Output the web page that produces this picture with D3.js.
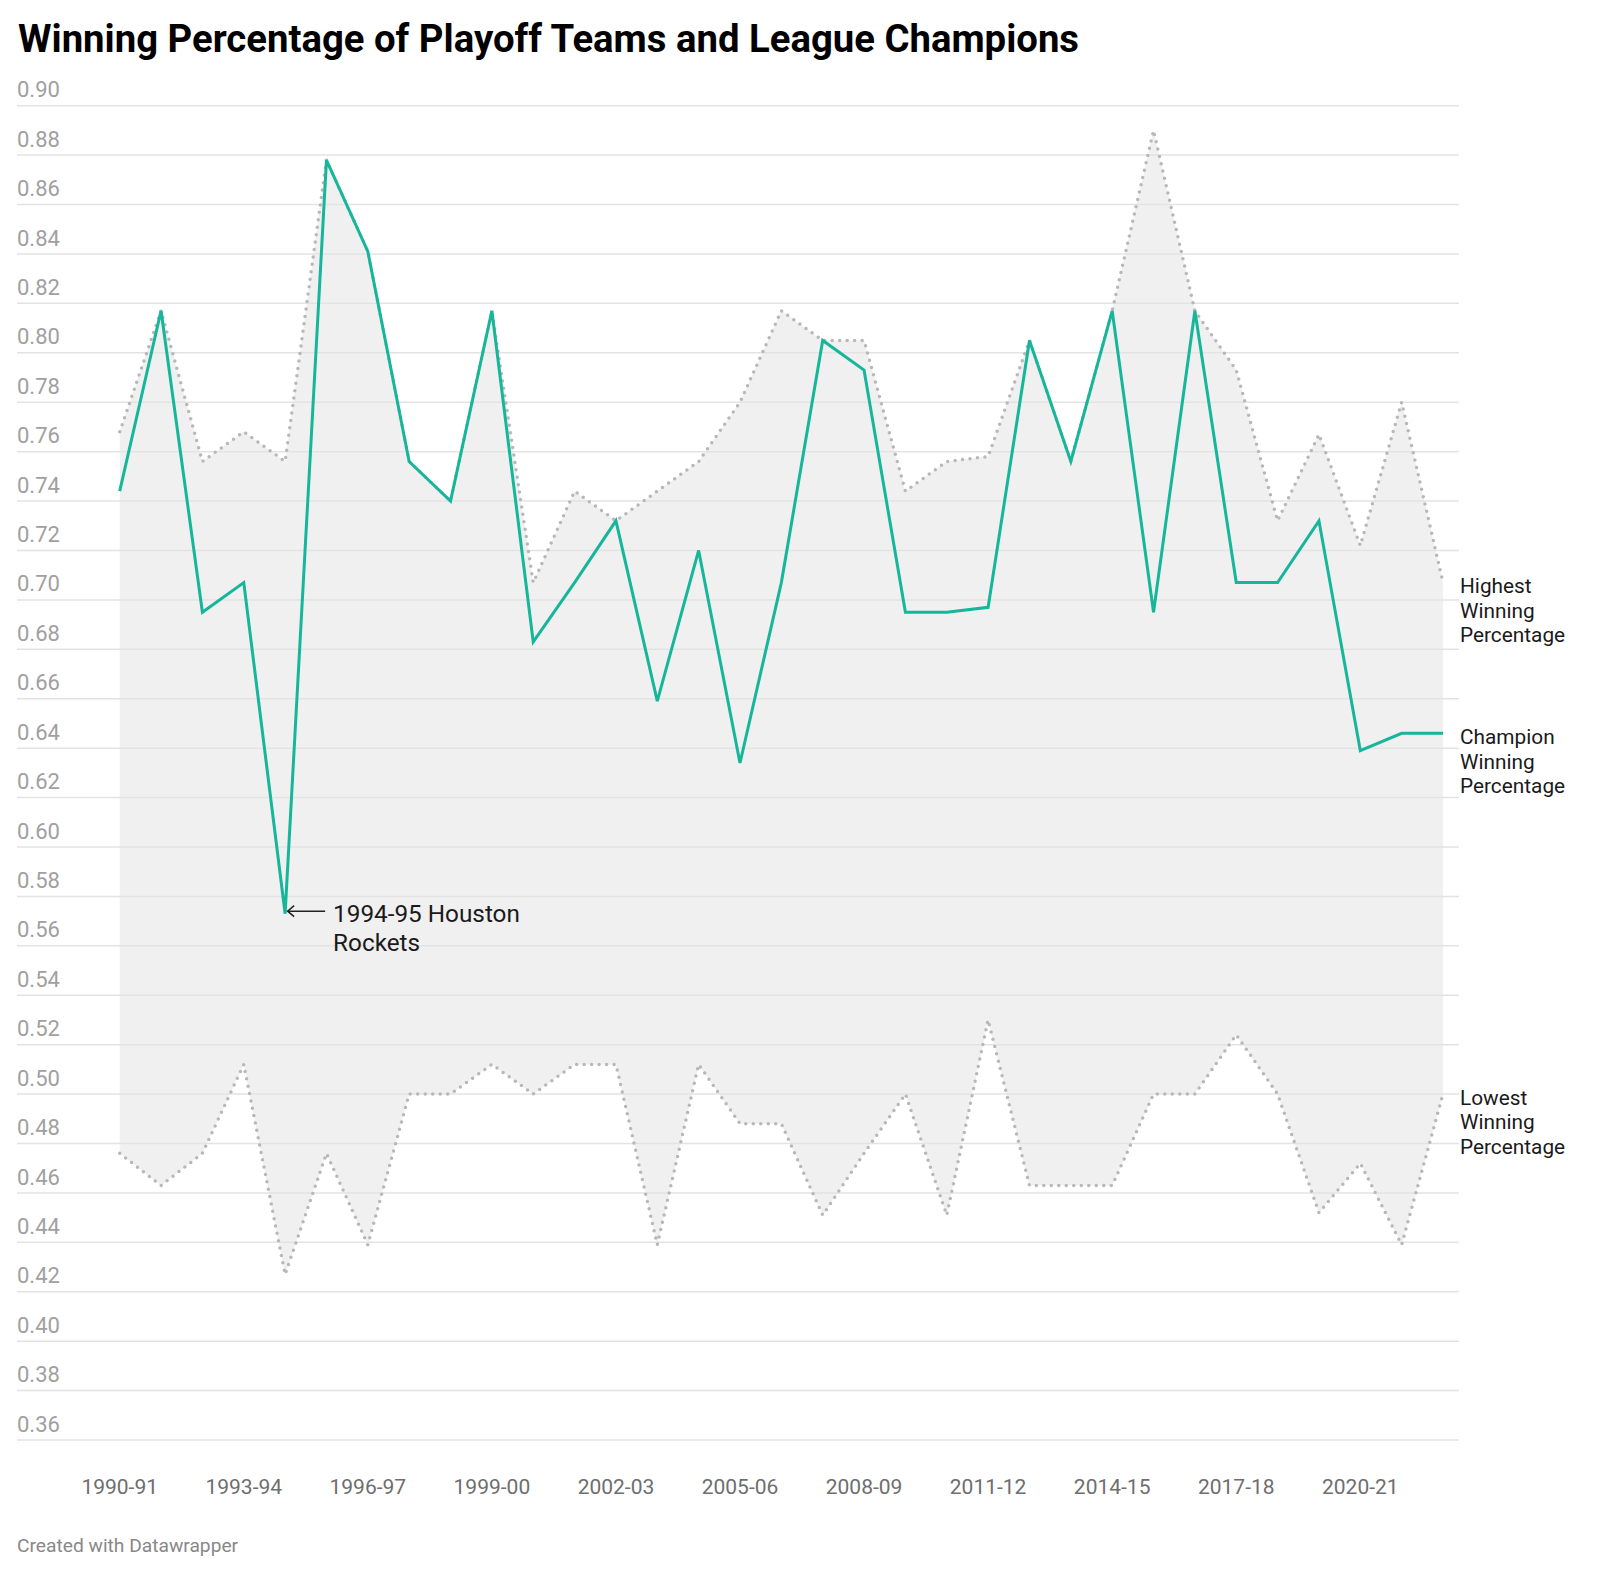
<!DOCTYPE html>
<html>
<head>
<meta charset="utf-8">
<script src="https://cdn.jsdelivr.net/npm/d3@7"></script>
<style>
  html, body { margin: 0; padding: 0; background: #fff; }
  svg { display: block; font-family: Roboto, "Noto Sans", sans-serif; }
</style>
</head>
<body>
<svg id="chart" width="1600" height="1574"></svg>
<script>
const seasons = ["1990-91","1991-92","1992-93","1993-94","1994-95","1995-96","1996-97","1997-98","1998-99","1999-00","2000-01","2001-02","2002-03","2003-04","2004-05","2005-06","2006-07","2007-08","2008-09","2009-10","2010-11","2011-12","2012-13","2013-14","2014-15","2015-16","2016-17","2017-18","2018-19","2019-20","2020-21","2021-22","2022-23"];
const champion = [0.744,0.817,0.695,0.707,0.573,0.878,0.841,0.756,0.740,0.817,0.683,0.707,0.732,0.659,0.720,0.634,0.707,0.805,0.793,0.695,0.695,0.697,0.805,0.756,0.817,0.695,0.817,0.707,0.707,0.732,0.639,0.646,0.646];
const highest  = [0.768,0.817,0.756,0.768,0.756,0.878,0.841,0.756,0.740,0.817,0.707,0.744,0.732,0.744,0.756,0.780,0.817,0.805,0.805,0.744,0.756,0.758,0.805,0.756,0.817,0.890,0.817,0.793,0.732,0.767,0.722,0.780,0.707];
const lowest   = [0.476,0.463,0.476,0.512,0.427,0.476,0.439,0.500,0.500,0.512,0.500,0.512,0.512,0.439,0.512,0.488,0.488,0.451,0.476,0.500,0.451,0.530,0.463,0.463,0.463,0.500,0.500,0.524,0.500,0.452,0.472,0.439,0.500];
const xTickLabels = ["1990-91","1993-94","1996-97","1999-00","2002-03","2005-06","2008-09","2011-12","2014-15","2017-18","2020-21"];
const yTickValues = [0.36,0.38,0.40,0.42,0.44,0.46,0.48,0.50,0.52,0.54,0.56,0.58,0.60,0.62,0.64,0.66,0.68,0.70,0.72,0.74,0.76,0.78,0.80,0.82,0.84,0.86,0.88,0.90];
const seriesLabels = [
  {name: "highest", lines: ["Highest","Winning","Percentage"]},
  {name: "champion", lines: ["Champion","Winning","Percentage"]},
  {name: "lowest", lines: ["Lowest","Winning","Percentage"]}
];
const annotation = {season: "1994-95", lines: ["1994-95 Houston", "Rockets"]};

const svg = d3.select("#chart");
const x = d3.scalePoint().domain(seasons).range([119.7, 1443]);
const y = d3.scaleLinear().domain([0.36, 0.90]).range([1440, 105.7]);

const rows = seasons.map((s, i) => ({s, c: champion[i], h: highest[i], l: lowest[i]}));
const series = {champion: champion, highest: highest, lowest: lowest};

// Title
svg.append("text").attr("x", 18).attr("y", 52.3)
  .attr("font-size", 38.3).attr("font-weight", 700).attr("fill", "#000")
  .text("Winning Percentage of Playoff Teams and League Champions");

// Area between lowest and highest
svg.append("path").datum(rows)
  .attr("fill", "#f0f0f0")
  .attr("d", d3.area().x(d => x(d.s)).y0(d => y(d.l)).y1(d => y(d.h)));

// Gridlines + y labels
const gy = svg.append("g");
gy.selectAll("line").data(yTickValues).join("line")
  .attr("x1", 17).attr("x2", 1459)
  .attr("y1", d => y(d)).attr("y2", d => y(d))
  .attr("stroke", "#e3e3e3").attr("stroke-width", 1.5);
gy.selectAll("text").data(yTickValues).join("text")
  .attr("x", 17).attr("y", d => y(d) - 8.4)
  .attr("font-size", 22).attr("fill", "#a0a0a0")
  .text(d => d3.format(".2f")(d));

// X labels
svg.append("g").selectAll("text").data(xTickLabels).join("text")
  .attr("x", d => x(d)).attr("y", 1494)
  .attr("text-anchor", "middle").attr("font-size", 21).attr("fill", "#6e6e6e")
  .text(d => d);

// Dotted lines
const line = key => d3.line().x(d => x(d.s)).y(d => y(d[key]));
["h", "l"].forEach(k => {
  svg.append("path").datum(rows).attr("d", line(k))
    .attr("fill", "none").attr("stroke", "#b8b8b8").attr("stroke-width", 3.5)
    .attr("stroke-linecap", "round").attr("stroke-dasharray", "0 7.5");
});

// Champion line
svg.append("path").datum(rows).attr("d", line("c"))
  .attr("fill", "none").attr("stroke", "#16b69b").attr("stroke-width", 3)
  .attr("stroke-linejoin", "miter");

// Right labels
const lastIdx = seasons.length - 1;
seriesLabels.forEach(lab => {
  const v = series[lab.name][lastIdx];
  const t = svg.append("text").attr("x", 1460).attr("y", y(v) + 10.8)
    .attr("font-size", 20.8).attr("fill", "#1a1a1a");
  lab.lines.forEach((ln, i) => {
    t.append("tspan").attr("x", 1460).attr("dy", i === 0 ? 0 : 24.5).text(ln);
  });
});

// Annotation
const ax = x(annotation.season), ayv = y(champion[seasons.indexOf(annotation.season)]);
const ay = ayv - 2.5;
svg.append("line").attr("x1", ax + 40).attr("x2", ax + 2.5)
  .attr("y1", ay).attr("y2", ay).attr("stroke", "#222").attr("stroke-width", 1.5);
svg.append("path")
  .attr("d", `M${ax + 9},${ay - 5.5} L${ax + 2.5},${ay} L${ax + 9},${ay + 5.5}`)
  .attr("fill", "none").attr("stroke", "#222").attr("stroke-width", 1.5);
const at = svg.append("text").attr("x", ax + 48).attr("y", ay + 11)
  .attr("font-size", 24.3).attr("fill", "#1a1a1a");
annotation.lines.forEach((ln, i) => {
  at.append("tspan").attr("x", ax + 48).attr("dy", i === 0 ? 0 : 29).text(ln);
});

// Footer
svg.append("text").attr("x", 17).attr("y", 1551.7)
  .attr("font-size", 19.2).attr("fill", "#888")
  .text("Created with Datawrapper");
</script>
</body>
</html>
